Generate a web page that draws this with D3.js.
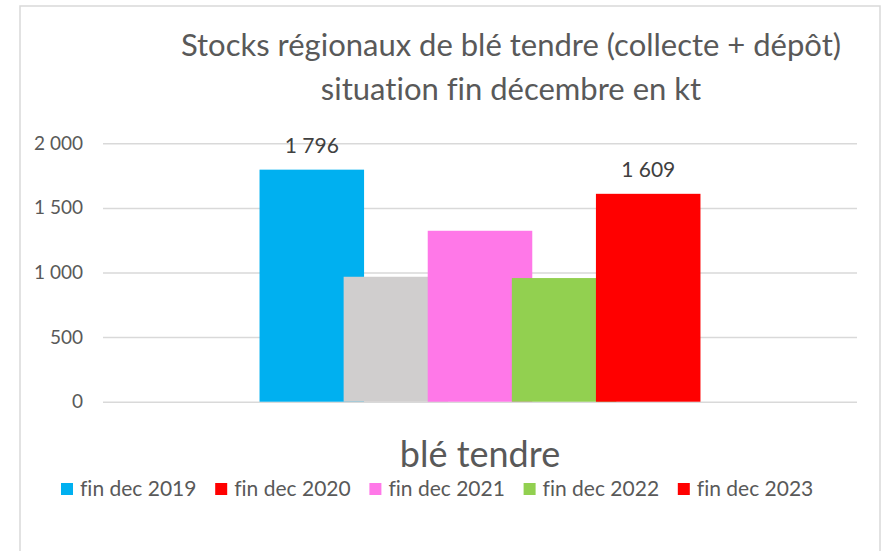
<!DOCTYPE html>
<html>
<head>
<meta charset="utf-8">
<script src="https://cdn.jsdelivr.net/npm/d3@7"></script>
<style>
  body { margin: 0; background: #fff; }
  svg { font-family: Lato, "Open Sans", sans-serif; font-variant-ligatures: none; }
</style>
</head>
<body>
<div id="chart"></div>
<script>
const categories = ["blé tendre"];
const seriesNames = ["fin dec 2019", "fin dec 2020", "fin dec 2021", "fin dec 2022", "fin dec 2023"];
const values = [1796, 967, 1323, 957, 1609];
const barColors = ["#00B0F0", "#D0CECE", "#FF78E8", "#92D050", "#FF0000"];
const legendColors = ["#00B0F0", "#FF0000", "#FF78E8", "#92D050", "#FF0000"];
const labelledSeries = ["fin dec 2019", "fin dec 2023"];
const yTicks = [0, 500, 1000, 1500, 2000];
const titleLines = ["Stocks régionaux de blé tendre (collecte + dépôt)", "situation fin décembre en kt"];

const data = seriesNames.map((name, i) => ({
  name: name,
  value: values[i],
  color: barColors[i],
  legendColor: legendColors[i]
}));

let dimensions = {
  width: 886,
  height: 551,
  margin: { top: 143.3, right: 29, bottom: 149.3, left: 103 }
};
dimensions.boundedWidth = dimensions.width - dimensions.margin.left - dimensions.margin.right;
dimensions.boundedHeight = dimensions.height - dimensions.margin.top - dimensions.margin.bottom;

const fr = d3.formatLocale({ decimal: ",", thousands: " ", grouping: [3], currency: ["", " €"] });
const fmt = fr.format(",.0f");

const wrapper = d3.select("#chart")
  .append("svg")
  .attr("width", dimensions.width)
  .attr("height", dimensions.height);

// frame
wrapper.append("rect")
  .attr("x", 20)
  .attr("y", 6)
  .attr("width", 860)
  .attr("height", 560)
  .attr("fill", "none")
  .attr("stroke", "#d9d9d9")
  .attr("stroke-width", 1.5);

// title
wrapper.append("text")
  .attr("text-anchor", "middle")
  .attr("fill", "#595959")
  .style("font-size", "31px")
  .selectAll("tspan")
  .data(titleLines)
  .join("tspan")
  .attr("x", 511)
  .attr("y", (d, i) => 56 + i * 44)
  .text((d) => d);

const bounds = wrapper.append("g")
  .attr("transform", `translate(${dimensions.margin.left},${dimensions.margin.top})`);

const yScale = d3.scaleLinear()
  .domain([0, 2000])
  .range([dimensions.boundedHeight, 0]);

const xScale = d3.scaleBand()
  .domain(categories)
  .range([0, dimensions.boundedWidth])
  .paddingInner(0)
  .paddingOuter(0.355);

// bars overlap each other, hence the negative inner padding
const xSeries = d3.scaleBand()
  .domain(seriesNames)
  .range([0, xScale.bandwidth()])
  .paddingInner(-0.243);

const yAxisGenerator = d3.axisLeft(yScale)
  .tickValues(yTicks)
  .tickFormat(fmt)
  .tickSize(-dimensions.boundedWidth)
  .tickPadding(20);

const yAxis = bounds.append("g")
  .call(yAxisGenerator);
yAxis.select(".domain").remove();
yAxis.selectAll(".tick line")
  .attr("stroke", "#d9d9d9")
  .attr("stroke-width", 1.5);
yAxis.selectAll(".tick text")
  .attr("fill", "#595959")
  .style("font-family", "Lato, sans-serif")
  .style("font-size", "19px");

const groups = bounds.selectAll(".cat")
  .data(categories)
  .join("g")
  .attr("class", "cat")
  .attr("transform", (d) => `translate(${xScale(d)},0)`);

groups.selectAll("rect")
  .data(data)
  .join("rect")
  .attr("x", (d) => xSeries(d.name))
  .attr("y", (d) => yScale(d.value))
  .attr("width", xSeries.bandwidth())
  .attr("height", (d) => dimensions.boundedHeight - yScale(d.value))
  .attr("fill", (d) => d.color);

groups.selectAll(".value-label")
  .data(data.filter((d) => labelledSeries.includes(d.name)))
  .join("text")
  .attr("class", "value-label")
  .attr("x", (d) => xSeries(d.name) + xSeries.bandwidth() / 2)
  .attr("y", (d) => yScale(d.value) - 17)
  .attr("text-anchor", "middle")
  .attr("fill", "#404040")
  .style("font-size", "21px")
  .text((d) => fmt(d.value));

// category axis title
bounds.selectAll(".cat-label")
  .data(categories)
  .join("text")
  .attr("class", "cat-label")
  .attr("x", (d) => xScale(d) + xScale.bandwidth() / 2)
  .attr("y", dimensions.boundedHeight + 65)
  .attr("text-anchor", "middle")
  .attr("fill", "#595959")
  .style("font-size", "36px")
  .text((d) => d);

// legend
const legend = wrapper.append("g")
  .attr("transform", "translate(61,483)");

const legendItems = legend.selectAll("g")
  .data(data)
  .join("g")
  .attr("transform", (d, i) => `translate(${i * 154.2},0)`);

legendItems.append("rect")
  .attr("width", 12)
  .attr("height", 12)
  .attr("fill", (d) => d.legendColor);

legendItems.append("text")
  .attr("x", 19)
  .attr("y", 13)
  .attr("fill", "#595959")
  .style("font-size", "21px")
  .text((d) => d.name);
</script>
</body>
</html>
